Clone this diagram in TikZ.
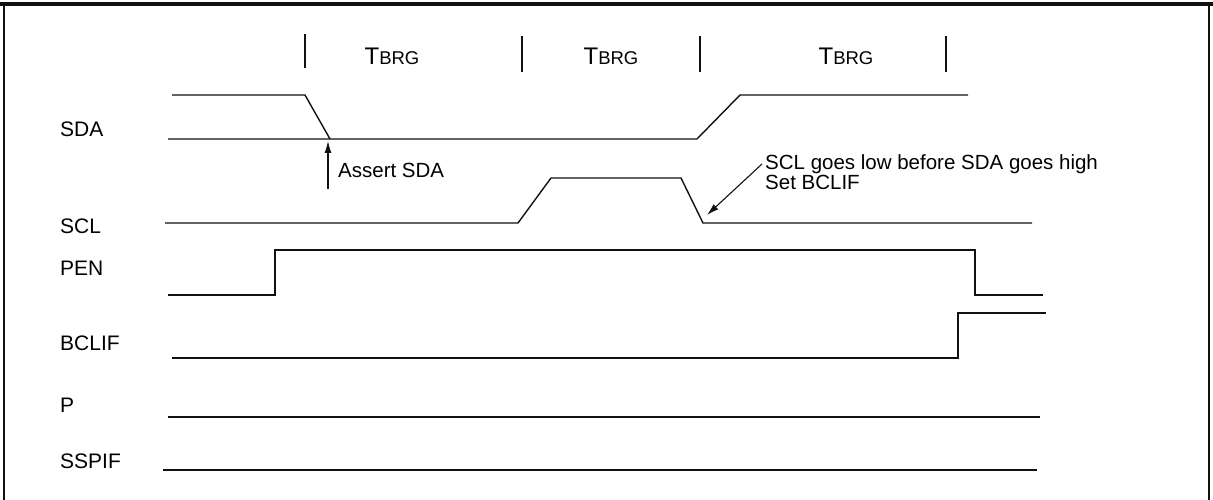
\documentclass[tikz,border=0pt]{standalone}
\usepackage{fontspec}
\setmainfont{Liberation Sans}
\usetikzlibrary{positioning, arrows.meta}
\definecolor{ink}{HTML}{111111}
\tikzset{
  frame/.style  = {draw=ink, line width=2.5pt},
  wave/.style   = {draw=ink, line width=1.4pt, line join=miter},
  tickmark/.style = {draw=ink, line width=1.2pt},
  sig/.style    = {anchor=west, inner sep=0pt, font=\fontsize{21}{24}\selectfont},
  note/.style   = {anchor=west, inner sep=0pt, align=left,
                   font=\fontsize{20.5}{20}\selectfont},
  period/.style = {inner sep=0pt},
  ar/.style     = {-{Latex[length=12pt,width=7pt]}, draw=ink, line width=1.1pt},
}
\newcommand{\tbrg}{{\fontsize{24}{24}\selectfont T}{\fontsize{18.5}{20}\selectfont BRG}}

\begin{document}
\begin{tikzpicture}[x=1pt, y=-1pt]
  \useasboundingbox (0,0) rectangle (1213,500);

  % frame
  \draw[frame, line width=4pt] (0,4) -- (1213,4);
  \draw[frame] (4,4) -- (4,500);
  \draw[frame] (1209,4) -- (1209,500);

  % baud rate periods
  \draw[tickmark] (305,34) -- (305,68);
  \draw[tickmark] (522,36) -- (522,72);
  \draw[tickmark] (700,36) -- (700,72);
  \draw[tickmark] (946,36) -- (946,72);
  \node[period] (t1) at (392,56) {\tbrg};
  \node[period] (t2) at (611,56) {\tbrg};
  \node[period] (t3) at (846,56) {\tbrg};

  % signal names
  \node[sig] (sda)   at (60,129) {SDA};
  \node[sig] (scl)   at (60,226) {SCL};
  \node[sig] (pen)   at (60,268) {PEN};
  \node[sig] (bclif) at (60,343) {BCLIF};
  \node[sig] (p)     at (60,405) {P};
  \node[sig] (sspif) at (60,461) {SSPIF};

  % SDA
  \draw[wave] (172,95) -- (305,95) -- (330,139);
  \draw[wave] (168,139) -- (697,139) -- (740,95) -- (968,95);
  \coordinate (sdalow) at (328,141);

  % SCL
  \draw[wave] (165,223) -- (518,223) -- (551,178) -- (681,178)
              -- (703,223) -- (1032,223);
  \coordinate (scllow) at (707,215);

  % PEN
  \draw[wave] (168,295) -- (275,295) -- (275,250) -- (975,250)
              -- (975,295) -- (1043,295);

  % BCLIF
  \draw[wave] (172,358) -- (958,358) -- (958,313) -- (1046,313);

  % P and SSPIF
  \draw[wave] (168,417) -- (1040,417);
  \draw[wave] (163,470) -- (1037,470);

  % notes
  \node[note] (assert) at (338,170) {Assert SDA};
  \coordinate (assertfoot) at (328,189);
  \draw[ar] (assertfoot) -- (sdalow);

  \node[note] (lost) at (765,172) {SCL goes low before SDA goes high\\Set BCLIF};
  \draw[ar] ([xshift=-3pt, yshift=8pt]lost.west) -- (scllow);
\end{tikzpicture}
\end{document}
